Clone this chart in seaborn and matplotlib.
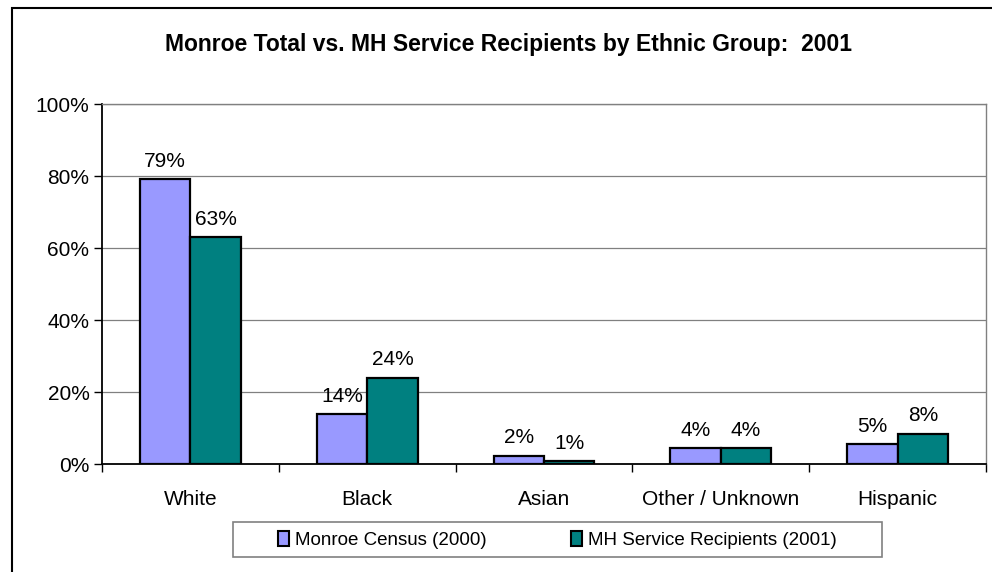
import matplotlib
matplotlib.use("Agg")
import matplotlib.pyplot as plt
import matplotlib.patches as mpatches
from matplotlib.ticker import FixedLocator, FuncFormatter
import seaborn as sns
import pandas as pd

categories = ["White", "Black", "Asian", "Other / Unknown", "Hispanic"]
series_names = ["Monroe Census (2000)", "MH Service Recipients (2001)"]
census = [79.2, 13.8, 2.3, 4.4, 5.5]
mh = [63.0, 24.0, 0.7, 4.4, 8.4]
census_labels = ["79%", "14%", "2%", "4%", "5%"]
mh_labels = ["63%", "24%", "1%", "4%", "8%"]
yticks = [0, 20, 40, 60, 80, 100]
title = "Monroe Total vs. MH Service Recipients by Ethnic Group:  2001"
colors = ["#9999FF", "#008080"]

df = pd.DataFrame({
    "cat": categories * 2,
    "series": [series_names[0]] * len(categories) + [series_names[1]] * len(categories),
    "val": census + mh,
})

sns.set_theme(style="white")
plt.rcParams["font.family"] = ["Liberation Sans", "DejaVu Sans"]
plt.rcParams["text.color"] = "black"
plt.rcParams["xtick.color"] = "black"
plt.rcParams["ytick.color"] = "black"

fig = plt.figure(figsize=(9.92, 5.72), dpi=100)
W, H = 992, 572
ax = fig.add_axes([102 / W, 1 - 464 / H, (986 - 102) / W, (464 - 104) / H])

sns.barplot(data=df, x="cat", y="val", hue="series", order=categories,
            hue_order=series_names, palette=colors, width=0.57, gap=0,
            edgecolor="black", linewidth=1.6, saturation=1, ax=ax, legend=False)

ax.set_ylim(0, 100)
ax.set_xlim(-0.5, len(categories) - 0.5)
ax.set_xlabel("")
ax.set_ylabel("")

# gridlines
for y in yticks[1:]:
    ax.axhline(y, color="#808080", lw=0.9, zorder=0)

ax.yaxis.set_major_locator(FixedLocator(yticks))
ax.yaxis.set_major_formatter(FuncFormatter(lambda v, p: f"{int(v)}%"))
ax.tick_params(axis="y", direction="out", length=6, width=1, color="black",
               labelsize=15, pad=3, left=True, labelcolor="black")

ax.xaxis.set_major_locator(FixedLocator([i - 0.5 for i in range(len(categories) + 1)]))
ax.xaxis.set_major_formatter(FuncFormatter(lambda v, p: ""))
ax.xaxis.set_minor_locator(FixedLocator(list(range(len(categories)))))
ax.set_xticklabels(categories, minor=True)
ax.tick_params(axis="x", which="major", direction="out", length=6, width=1,
               color="black", bottom=True)
ax.tick_params(axis="x", which="minor", length=0, labelsize=15, pad=19,
               labelcolor="black")

for s in ["left", "bottom"]:
    ax.spines[s].set_color("black")
    ax.spines[s].set_linewidth(1.3)
for s in ["top", "right"]:
    ax.spines[s].set_color("#808080")
    ax.spines[s].set_linewidth(1.0)
ax.spines["bottom"].set_zorder(5)

# value labels
for cont, labs in zip(ax.containers, [census_labels, mh_labels]):
    ax.bar_label(cont, labels=labs, padding=6, fontsize=15, color="black")

fig.text(509 / W, 1 - 45 / H, title, ha="center", va="center",
         fontsize=16.5, fontweight="bold", color="black")

# legend
handles = [mpatches.Patch(facecolor=c, edgecolor="black", linewidth=1.5) for c in colors]
leg = fig.legend(handles, series_names, loc="center",
                 bbox_to_anchor=(557 / W, 1 - 540 / H), ncol=2, frameon=False,
                 fontsize=13.5, handlelength=0.6, handleheight=0.8, handletextpad=0.3,
                 columnspacing=4.5)
for t in leg.get_texts():
    t.set_color("black")
fig.patches.append(mpatches.Rectangle((233 / W, 1 - 557 / H), (882 - 233) / W, 35 / H,
                                      transform=fig.transFigure, fill=False,
                                      edgecolor="#808080", lw=1.2))
# figure frame
fig.patches.append(mpatches.Rectangle((12 / W, -0.05), 1.2, (H - 8) / H + 0.05,
                                      transform=fig.transFigure, fill=False,
                                      edgecolor="black", lw=1.5))

fig.savefig("out.png", dpi=100)
